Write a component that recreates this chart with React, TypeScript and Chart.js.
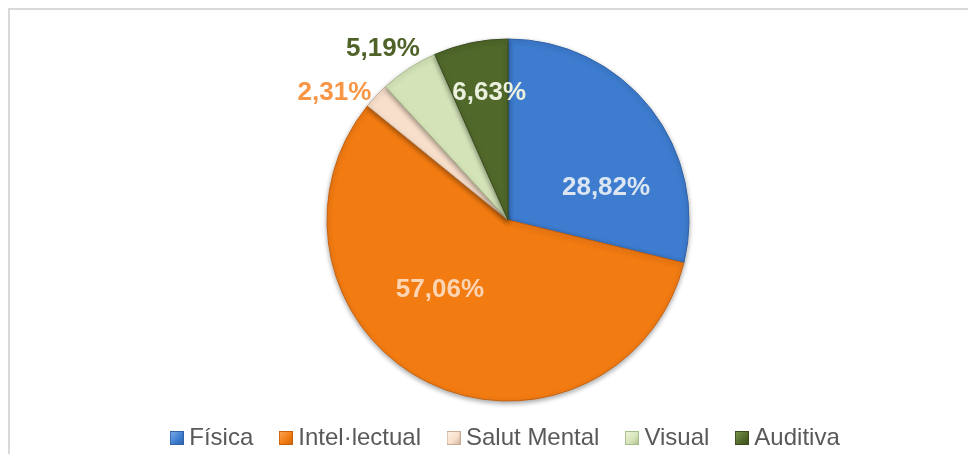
import React, { useEffect, useRef } from "react";
import { Chart, registerables } from "chart.js";

Chart.register(...registerables);

const categories = ["Física", "Intel·lectual", "Salut Mental", "Visual", "Auditiva"];
const values = [28.82, 57.06, 2.31, 5.19, 6.63];
const sliceColors = ["#3D7CCF", "#F27B12", "#F8DFCB", "#D5E4B8", "#50682A"];
const sliceBorders = ["#2F62A6", "#C8620E", "#C9AE98", "#A9BC8C", "#3A4C1D"];
const legendLight = ["#7FAEEA", "#FBA65A", "#FFF1E4", "#EEF6DC", "#7E9A52"];
const labelColors = ["#DCE6F2", "#FCD5B5", "#F79646", "#4F6228", "#EBF1DE"];
// label placement: fraction of radius and angular shift (degrees) from slice middle
const labelRadius = [0.57, 0.54, 1.19, 1.17, 0.71];
const labelAngleShift = [20, 17.7, -7, -3, 3.5];

const fmt = (v: number) => v.toFixed(2).replace(".", ",") + "%";

function makeBox(i: number): HTMLCanvasElement {
  const c = document.createElement("canvas");
  c.width = 14;
  c.height = 14;
  const g = c.getContext("2d")!;
  const grad = g.createLinearGradient(0, 0, 14, 14);
  grad.addColorStop(0, legendLight[i]);
  grad.addColorStop(0.6, sliceColors[i]);
  grad.addColorStop(1, sliceBorders[i]);
  g.fillStyle = grad;
  g.fillRect(0, 0, 14, 14);
  g.strokeStyle = sliceBorders[i];
  g.lineWidth = 1;
  g.strokeRect(0.5, 0.5, 13, 13);
  return c;
}

const labelPlugin = {
  id: "sliceLabels",
  beforeDatasetsDraw(chart: any) {
    const ctx = chart.ctx;
    ctx.save();
    ctx.shadowColor = "rgba(0,0,0,0.35)";
    ctx.shadowBlur = 5;
    ctx.shadowOffsetY = 2;
  },
  afterDatasetsDraw(chart: any) {
    const ctx = chart.ctx;
    ctx.restore();
    const meta = chart.getDatasetMeta(0);
    ctx.save();
    ctx.font = "bold 26px 'Liberation Sans', Arial, sans-serif";
    ctx.textAlign = "center";
    ctx.textBaseline = "middle";
    meta.data.forEach((arc: any, i: number) => {
      const p = arc.getProps(["x", "y", "startAngle", "endAngle", "outerRadius"], true);
      const mid = (p.startAngle + p.endAngle) / 2 + (labelAngleShift[i] * Math.PI) / 180;
      const r = p.outerRadius * labelRadius[i];
      ctx.fillStyle = labelColors[i];
      ctx.fillText(fmt(values[i]), p.x + Math.cos(mid) * r, p.y + Math.sin(mid) * r);
    });
    ctx.restore();
  },
};

export default function App() {
  const ref = useRef<HTMLCanvasElement>(null);
  useEffect(() => {
    document.body.style.overflow = "hidden";
    document.documentElement.style.overflow = "hidden";
    const boxes = categories.map((_, i) => makeBox(i));
    const chart = new Chart(ref.current!, {
      type: "pie",
      data: {
        labels: categories,
        datasets: [
          {
            data: values,
            backgroundColor: sliceColors,
            borderColor: sliceBorders,
            borderWidth: 1,
          },
        ],
      },
      options: {
        responsive: false,
        animation: false,
        devicePixelRatio: 1,
        radius: 181,
        layout: { padding: { left: 48, right: 0, top: 46, bottom: 10 } },
        plugins: {
          tooltip: { enabled: false },
          legend: {
            position: "bottom",
            labels: {
              usePointStyle: true,
              pointStyleWidth: 1,
              padding: 32,
              color: "#595959",
              font: { family: "'Liberation Sans', Arial, sans-serif", size: 24 },
              generateLabels: (ch: any) => {
                const base = (Chart as any).overrides.pie.plugins.legend.labels.generateLabels(ch);
                return base.map((item: any, i: number) => ({ ...item, pointStyle: boxes[i] }));
              },
            },
          },
        },
      } as any,
      plugins: [labelPlugin],
    });
    return () => chart.destroy();
  }, []);
  return (
    <>
      <div
        style={{
          position: "fixed",
          left: 8,
          top: 8,
          right: 0,
          bottom: 0,
          borderTop: "2px solid #D9D9D9",
          borderLeft: "2px solid #D9D9D9",
          background: "#fff",
        }}
      />
      <canvas
        ref={ref}
        width={968}
        height={470}
        style={{ position: "fixed", left: 0, top: 0, width: 968, height: 470 }}
      />
    </>
  );
}
